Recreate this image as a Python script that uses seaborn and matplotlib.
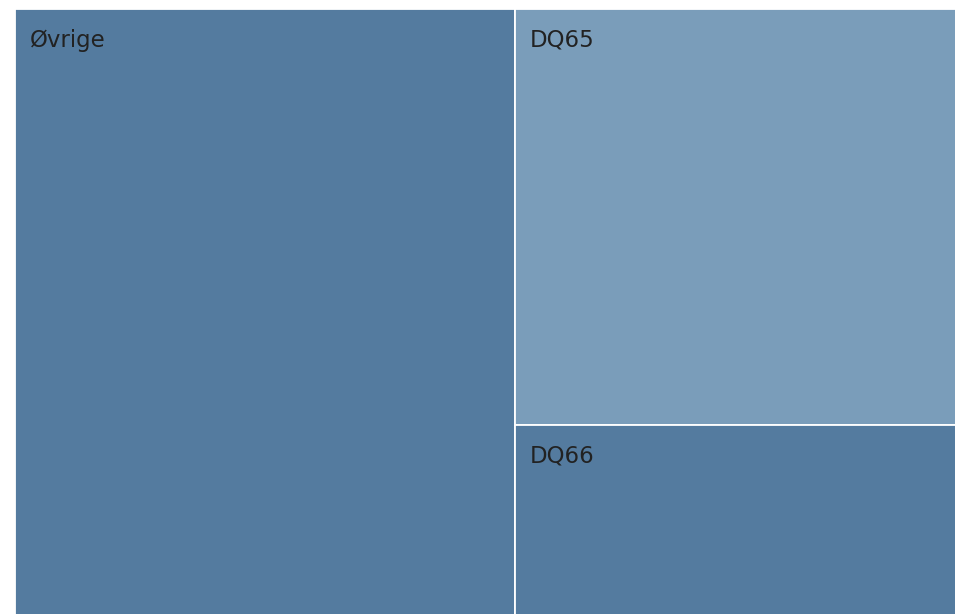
import matplotlib
matplotlib.use("Agg")
import matplotlib.pyplot as plt
import seaborn as sns

# ── Data ──────────────────────────────────────────────────────────────────────
labels = ["Øvrige", "DQ65", "DQ66"]
values = [531, 322, 147]
colors = ["#547b9f", "#7a9dba", "#547b9f"]

# ── Layout (slice-and-dice: first tile full height, rest stacked) ─────────────
total = sum(values)
W, H = 1.0, 1.0
first_w = W * values[0] / total
rest = sum(values[1:])
tiles = [(0.0, 0.0, first_w, H)]
y_top = H
for v in values[1:]:
    h = H * v / rest
    tiles.append((first_w, y_top - h, W - first_w, h))
    y_top -= h

sns.set_theme(style="white")
plt.rcParams["font.family"] = ["DejaVu Sans"]

fig = plt.figure(figsize=(9.55, 6.14), dpi=100)
ax = fig.add_axes([15 / 955, -0.002, 941 / 955, 605 / 614 + 0.002])

for (x, y, w, h), lab, col in zip(tiles, labels, colors):
    ax.bar(x, h, width=w, bottom=y, align="edge", color=col,
           edgecolor="white", linewidth=1.3)
    ax.annotate(lab, xy=(x, y + h), xytext=(15, -31),
                textcoords="offset pixels",
                ha="left", va="center", fontsize=16.5, color="#222222")

ax.set_xlim(0, W)
ax.set_ylim(0, H)
ax.axis("off")

fig.savefig("out.png", dpi=100)
